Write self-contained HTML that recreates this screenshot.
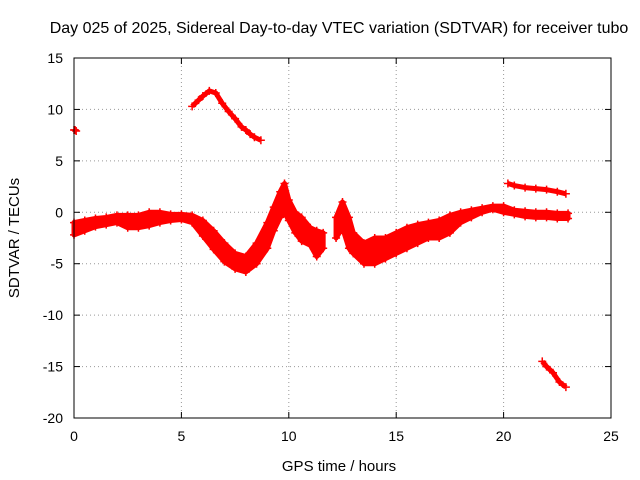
<!DOCTYPE html>
<html><head><meta charset="utf-8"><style>
body{margin:0;background:#fff;}
svg{display:block;font-family:"Liberation Sans",sans-serif;}
</style></head><body>
<svg width="640" height="480">
<rect width="640" height="480" fill="#fff"/>
<text x="339" y="33" font-size="16" text-anchor="middle">Day 025 of 2025, Sidereal Day-to-day VTEC variation (SDTVAR) for receiver tubo</text>
<g id="grid"></g>
<g id="ticks"></g>
<g id="marks"></g>
<rect x="74" y="58" width="537" height="360" fill="none" stroke="#000" stroke-width="1"/>
<text x="339" y="471" font-size="15" text-anchor="middle">GPS time / hours</text>
<text x="19" y="238" font-size="15" text-anchor="middle" transform="rotate(-90 19 238)">SDTVAR / TECUs</text>
</svg>
<script>
const xTicks=[0,5,10,15,20,25];
const yTicks=[15,10,5,0,-5,-10,-15,-20];
const aHours=[0,0.5,1,1.5,2,2.5,3,3.5,4,4.5,5,5.5,6,6.5,7,7.5,8,8.5,9,9.3,9.6,9.8,10,10.3,10.6,11,11.3,11.6];
const aUpper=[-1,-0.8,-0.6,-0.5,-0.3,-0.3,-0.3,0,0,-0.2,-0.2,-0.3,-0.8,-1.8,-3,-4,-4.3,-3,-1,0.5,2,2.8,1.2,0,-0.5,-1.5,-1.8,-2];
const aLower=[-2.2,-1.8,-1.4,-1.2,-1,-1.5,-1.5,-1.3,-1,-0.8,-0.7,-1,-2.3,-3.6,-4.8,-5.5,-5.8,-5,-3.5,-1.8,-0.5,0,-0.8,-2,-2.8,-3.2,-4.3,-3.5];
const bHours=[12.2,12.5,12.8,13,13.5,14,14.5,15,15.5,16,16.5,17,17.5,18,18.5,19,19.5,20,20.5,21,21.5,22,22.5,23];
const bUpper=[-0.5,1,-0.5,-2,-3,-2.5,-2.5,-2,-1.5,-1.2,-1,-0.8,-0.3,0,0.2,0.4,0.6,0.6,0.2,0.1,0,0,-0.1,-0.1];
const bLower=[-2.5,-1.5,-3.5,-4,-5,-5,-4.5,-4,-3.5,-3,-2.5,-2.5,-2,-1,-0.5,0,0.3,0,-0.2,-0.4,-0.5,-0.5,-0.6,-0.6];
const pHours=[0,0.05,0.1];
const pVals=[8,8,7.9];
const arcHours=[5.5,5.8,6,6.3,6.6,6.9,7.2,7.5,7.8,8,8.2,8.4,8.7];
const arcVals=[10.3,10.9,11.3,11.8,11.6,10.6,9.8,9.1,8.3,8,7.6,7.3,7];
const lateHours=[20.2,20.5,21,21.5,22,22.5,22.9];
const lateVals=[2.8,2.6,2.4,2.3,2.2,2.0,1.8];
const lowHours=[21.8,22,22.3,22.6,22.9];
const lowVals=[-14.5,-15,-15.6,-16.5,-17];

const X=h=>74+h*537/25, Y=v=>58+(15-v)*360/35;
const NS="http://www.w3.org/2000/svg";
const grid=document.getElementById('grid'),ticks=document.getElementById('ticks'),marks=document.getElementById('marks');
function mk(tag,attrs,parent){const e=document.createElementNS(NS,tag);for(const k in attrs)e.setAttribute(k,attrs[k]);parent.appendChild(e);return e;}
xTicks.forEach(t=>{const x=X(t);
 if(t>0&&t<25){const g=mk('line',{x1:x,y1:58,x2:x,y2:418,stroke:'#999','stroke-dasharray':'1,3'},grid);}
 mk('line',{x1:x,y1:418,x2:x,y2:412,stroke:'#000'},ticks);mk('line',{x1:x,y1:58,x2:x,y2:64,stroke:'#000'},ticks);
 const l=mk('text',{x:x,y:441,'font-size':14,'text-anchor':'middle'},ticks);l.textContent=t;
 });
yTicks.forEach(t=>{const y=Y(t);
 if(t<15&&t>-20){const g=mk('line',{x1:74,y1:y,x2:611,y2:y,stroke:'#999','stroke-dasharray':'1,3'},grid);}
 mk('line',{x1:74,y1:y,x2:80,y2:y,stroke:'#000'},ticks);mk('line',{x1:611,y1:y,x2:605,y2:y,stroke:'#000'},ticks);
 const l=mk('text',{x:63,y:y+5,'font-size':14,'text-anchor':'end'},ticks);l.textContent=t;
 });
function plus(h,v){const x=X(h),y=Y(v);
 const p=mk('path',{d:`M${x-4},${y}h8M${x},${y-4}v8`,stroke:'#f00','stroke-width':1.5},marks);
 }
function band(hs,up,lo,name){
 let d='M'+hs.map((h,i)=>X(h)+','+Y(up[i])).join('L')+'L'+hs.map((h,i)=>X(h)+','+Y(lo[i])).reverse().join('L')+'Z';
 const p=mk('path',{d:d,fill:'#f00',stroke:'#f00','stroke-width':5,'stroke-linejoin':'round'},marks);
 
 hs.forEach((h,i)=>{plus(h,up[i]);plus(h,lo[i]);});}
function line(hs,vs,name){
 const p=mk('polyline',{points:hs.map((h,i)=>X(h)+','+Y(vs[i])).join(' '),fill:'none',stroke:'#f00','stroke-width':5,'stroke-linejoin':'round'},marks);
 
 hs.forEach((h,i)=>plus(h,vs[i]));}
band(aHours,aUpper,aLower,'main-band-a');
band(bHours,bUpper,bLower,'main-band-b');
line(pHours,pVals,'start-points');
line(arcHours,arcVals,'upper-arc-series');
line(lateHours,lateVals,'late-upper-series');
line(lowHours,lowVals,'late-lower-series');
</script>
</body></html>
